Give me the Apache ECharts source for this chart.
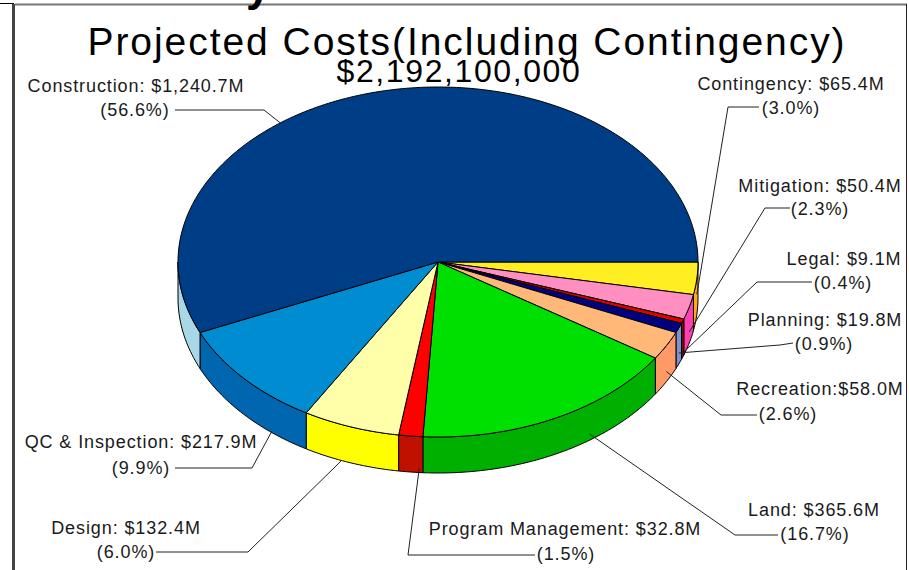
<!DOCTYPE html>
<html>
<head>
<meta charset="utf-8">
<style>
  html, body { margin: 0; padding: 0; background: #fff; }
  #chart { width: 909px; height: 570px; }
  /* the original text is tracked out, only svg text can do that */
  svg text { letter-spacing: 0.05em; }
</style>
<script src="https://cdn.jsdelivr.net/npm/echarts@6/dist/echarts.min.js"></script>
</head>
<body>
<div id="chart"></div>
<script>
// clockwise from 3 o'clock
const categories = ["Contingency", "Mitigation", "Legal", "Planning", "Recreation", "Land", "Program Management", "Design", "QC & Inspection", "Construction"];
const costs = [65.4, 50.4, 9.1, 19.8, 58.0, 365.6, 32.8, 132.4, 217.9, 1240.7];
const amountLabels = ["Contingency: $65.4M", "Mitigation: $50.4M", "Legal: $9.1M", "Planning: $19.8M", "Recreation:$58.0M", "Land: $365.6M", "Program Management: $32.8M", "Design: $132.4M", "QC & Inspection: $217.9M", "Construction: $1,240.7M"];
const shareLabels = ["(3.0%)", "(2.3%)", "(0.4%)", "(0.9%)", "(2.6%)", "(16.7%)", "(1.5%)", "(6.0%)", "(9.9%)", "(56.6%)"];

const topColors = ["#FFEE22", "#FF8FC0", "#E00000", "#000080", "#FFB878", "#00E000", "#FF0000", "#FFFFAA", "#008CD0", "#003D87"];
const wallColors = ["#FFA820", "#FF40B0", "#A00000", "#8090D0", "#FF9966", "#00B000", "#C01000", "#FFFF00", "#0066B0", "#A8D8E8"];

// pie geometry
const cx = 438, cy = 262, rx = 260, ry = 175, depth = 36;

// label placement: text centres, leader start/elbow, and where the leader lands on the slice
const labelLayout = [
  { x1: 791, y1: 84, x2: 791, y2: 108, start: [759, 107], elbow: [728, 107], along: 0.5, drop: 16 },
  { x1: 820, y1: 186, x2: 820, y2: 209, start: [790, 208], elbow: [765, 208], along: 0.5, drop: 25 },
  { x1: 844, y1: 259, x2: 843, y2: 283, start: [812, 282], elbow: [757, 282], along: 0.5, drop: 32 },
  { x1: 825, y1: 320, x2: 824, y2: 344, start: [793, 343], elbow: [780, 345], along: 0.5, drop: 25 },
  { x1: 820, y1: 389, x2: 788, y2: 414, start: [757, 415], elbow: [721, 415], along: 0.5, drop: 26 },
  { x1: 814, y1: 510, x2: 815, y2: 534, start: [778, 535], elbow: [735, 535], along: 0.35, drop: 30 },
  { x1: 565, y1: 529, x2: 566, y2: 554, start: [535, 555], elbow: [408, 555], along: 0.15, drop: 32 },
  { x1: 126, y1: 528, x2: 126, y2: 552, start: [156, 552], elbow: [248, 552], along: 0.6, drop: 36 },
  { x1: 141, y1: 442, x2: 141, y2: 468, start: [175, 468], elbow: [252, 468], along: 0.26, drop: 35 },
  { x1: 136, y1: 86, x2: 135, y2: 110, start: [175, 110], elbow: [264, 110], along: 0.375, drop: 0 }
];

const total = costs.reduce((a, b) => a + b, 0);
let running = 0;
const sliceAngles = costs.map((c) => {
  const from = (running / total) * 360;
  running += c;
  return [from, (running / total) * 360];
});

function rim(deg, drop) {
  const r = (deg * Math.PI) / 180;
  return [cx + rx * Math.cos(r), cy + ry * Math.sin(r) + (drop || 0)];
}

function arc(from, to, drop) {
  const pts = [];
  const n = Math.max(2, Math.ceil(Math.abs(to - from)));
  for (let i = 0; i <= n; i++) pts.push(rim(from + ((to - from) * i) / n, drop));
  return pts;
}

function renderSlice(params, api) {
  const i = api.value(0);
  const [from, to] = sliceAngles[i];
  const children = [];
  const line = { stroke: "#000", lineWidth: 1, lineJoin: "round" };

  // only the front half of the side wall can be seen
  const wallFrom = Math.max(from, 0);
  const wallTo = Math.min(to, 180);
  if (wallTo > wallFrom) {
    children.push({
      type: "polygon",
      shape: { points: arc(wallFrom, wallTo, 0).concat(arc(wallTo, wallFrom, depth)) },
      style: Object.assign({ fill: wallColors[i] }, line)
    });
  }
  children.push({
    type: "polygon",
    shape: { points: [[cx, cy]].concat(arc(from, to, 0)) },
    style: Object.assign({ fill: topColors[i] }, line)
  });
  return { type: "group", children };
}

function renderLabel(params, api) {
  const i = api.value(0);
  const l = labelLayout[i];
  const [from, to] = sliceAngles[i];
  const tip = rim(from + (to - from) * l.along, l.drop);
  const text = (str, x, y) => ({
    type: "text",
    x, y,
    style: {
      text: str,
      fill: "#1a1a1a",
      font: '18px "Liberation Sans", Arial, sans-serif',
      align: "center",
      verticalAlign: "middle"
    }
  });
  return {
    type: "group",
    children: [
      {
        type: "polyline",
        shape: { points: [l.start, l.elbow, tip] },
        style: { stroke: "#222", lineWidth: 1, fill: null }
      },
      text(amountLabels[i], l.x1, l.y1),
      text(shareLabels[i], l.x2, l.y2)
    ]
  };
}

const chart = echarts.init(document.getElementById("chart"), null, { renderer: "svg" });
const sliceData = categories.map((name, i) => ({ name, value: [i, costs[i]] }));

chart.setOption({
  animation: false,
  backgroundColor: "#fff",
  title: [
    {
      text: "Projected Costs(Including Contingency)",
      left: 462, top: 17, textAlign: "center",
      textStyle: { fontFamily: "Liberation Sans", fontSize: 39, fontWeight: "normal", color: "#000" }
    },
    {
      text: "$2,192,100,000",
      left: 454, top: 50, textAlign: "center",
      textStyle: { fontFamily: "Liberation Sans", fontSize: 32, fontWeight: "normal", color: "#000" }
    },
    {
      // tail of a heading cut off by the top of the frame
      text: "y",
      left: 241, top: -42,
      textStyle: { fontFamily: "Liberation Sans", fontSize: 44, fontWeight: "bold", color: "#000" }
    }
  ],
  graphic: [
    { type: "line", shape: { x1: 13.5, y1: 4, x2: 13.5, y2: 570 }, style: { stroke: "#444", lineWidth: 3 } },
    { type: "line", shape: { x1: 0, y1: 3.5, x2: 14, y2: 3.5 }, style: { stroke: "#000", lineWidth: 1 } },
    { type: "line", shape: { x1: 15, y1: 4.5, x2: 907, y2: 4.5 }, style: { stroke: "#777", lineWidth: 2 } },
    { type: "line", shape: { x1: 906.5, y1: 4, x2: 906.5, y2: 570 }, style: { stroke: "#222", lineWidth: 1 } }
  ],
  series: [
    { type: "custom", coordinateSystem: "none", renderItem: renderSlice, data: sliceData, silent: true, z: 2 },
    { type: "custom", coordinateSystem: "none", renderItem: renderLabel, data: sliceData, silent: true, z: 3 }
  ]
});
</script>
</body>
</html>
